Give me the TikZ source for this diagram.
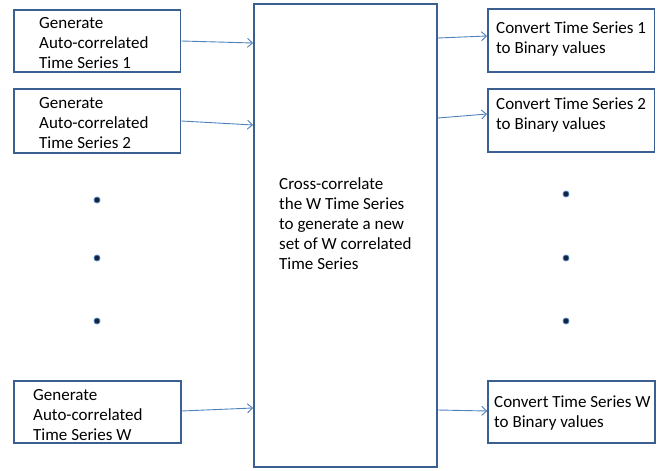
\documentclass[tikz,border=0pt]{standalone}
\usepackage{fontspec}
\setmainfont{Carlito}
\usetikzlibrary{arrows.meta}
\definecolor{boxblue}{HTML}{3A5F91}
\definecolor{arrblue}{HTML}{4F81BD}
\definecolor{dotdark}{HTML}{14233F}
\tikzset{
  box/.style={draw=boxblue, line width=1.8pt, rectangle, inner sep=0pt, fill=white},
  txt/.style={anchor=north west, inner sep=0pt, align=left, font=\fontsize{17}{20}\selectfont},
  conn/.style={draw=arrblue, line width=0.9pt, -{Straight Barb[length=5pt,width=9pt,line width=0.9pt]}},
  bullet/.style={circle, fill=dotdark, draw=arrblue, line width=0.8pt, inner sep=0pt, minimum size=6pt}
}
\begin{document}
\begin{tikzpicture}[x=1pt,y=-1pt]
\useasboundingbox (0,0) rectangle (665,471);
% boxes
\node[box, minimum width=166.5pt, minimum height=62.5pt] (l1) at (97.25,41) {};
\node[box, minimum width=166.5pt, minimum height=64pt] (l2) at (97.25,121) {};
\node[box, minimum width=166.5pt, minimum height=62pt] (lw) at (97.5,412) {};
\node[box, minimum width=183pt, minimum height=463pt] (c) at (345.5,235.5) {};
\node[box, minimum width=166.5pt, minimum height=63pt] (r1) at (571.25,40.5) {};
\node[box, minimum width=166.5pt, minimum height=63pt] (r2) at (571.25,120.5) {};
\node[box, minimum width=166.5pt, minimum height=62pt] (rw) at (571.5,412) {};
% texts
\node[txt] (t1) at (39,14) {\strut Generate\\Auto-correlated\\Time Series 1};
\node[txt] (t2) at (39,94) {\strut Generate\\Auto-correlated\\Time Series 2};
\node[txt] (tw) at (33,386) {\strut Generate\\Auto-correlated\\Time Series W};
\node[txt] (tc) at (279,175) {\strut Cross-correlate\\the W Time Series\\to generate a new\\set of W correlated\\Time Series};
\node[txt] (s1) at (496,19) {\strut Convert Time Series 1\\to Binary values};
\node[txt] (s2) at (496,95) {\strut Convert Time Series 2\\to Binary values};
\node[txt] (sw) at (494,393) {\strut Convert Time Series W\\to Binary values};
% connector end points
\coordinate (ci1) at (c.west |- 0,43);
\coordinate (ci2) at (c.west |- 0,125);
\coordinate (ciw) at (c.west |- 0,408);
\coordinate (co1) at (c.east |- 0,38);
\coordinate (co2) at (c.east |- 0,118);
\coordinate (cow) at (c.east |- 0,410);
\coordinate (ri1) at (r1.west |- 0,36);
\coordinate (ri2) at (r2.west |- 0,114);
\coordinate (riw) at (rw.west |- 0,411);
\coordinate (lo1) at (l1.east |- 0,41);
\coordinate (lo2) at (l2.east |- 0,121);
\coordinate (low) at (lw.east |- 0,411);
% connectors
\draw[conn] (lo1) -- (ci1);
\draw[conn] (lo2) -- (ci2);
\draw[conn] (low) -- (ciw);
\draw[conn] (co1) -- (ri1);
\draw[conn] (co2) -- (ri2);
\draw[conn] (cow) -- (riw);
% dots
\node[bullet] (dl1) at (97,200) {};
\node[bullet] (dl2) at (97,258) {};
\node[bullet] (dl3) at (97,321) {};
\node[bullet] (dr1) at (566,194) {};
\node[bullet] (dr2) at (566,258) {};
\node[bullet] (dr3) at (566,321) {};
\end{tikzpicture}
\end{document}
